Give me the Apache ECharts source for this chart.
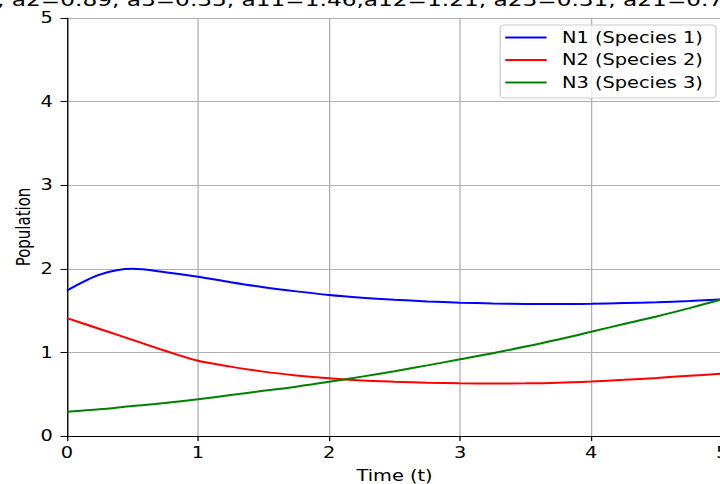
<!DOCTYPE html>
<html>
<head>
<meta charset="utf-8">
<script src="https://cdn.jsdelivr.net/npm/echarts@6/dist/echarts.min.js"></script>
<style>
html,body{margin:0;padding:0;background:#fff;overflow:hidden;}
#wrap{width:720px;height:484px;overflow:hidden;position:relative;}
#chart{width:558px;height:484px;transform:scaleX(1.2903);transform-origin:0 0;}
</style>
</head>
<body>
<div id="wrap"><div id="chart"></div></div>
<script>
var titleText = ", a2=0.89, a3=0.35, a11=1.46,a12=1.21, a23=0.31, a21=0.7";
var seriesNames = ["N1 (Species 1)", "N2 (Species 2)", "N3 (Species 3)"];
var timeValues = [0, 0.25, 0.5, 0.75, 1, 1.25, 1.5, 1.75, 2, 2.25, 2.5, 2.75, 3, 3.25, 3.5, 3.75, 4, 4.25, 4.5, 4.75, 5];
var n1Values = [1.74, 1.93, 2.00, 1.96, 1.906, 1.84, 1.78, 1.73, 1.687, 1.655, 1.63, 1.61, 1.595, 1.585, 1.579, 1.578, 1.582, 1.59, 1.60, 1.615, 1.635];
var n2Values = [1.41, 1.28, 1.15, 1.02, 0.90, 0.83, 0.77, 0.725, 0.69, 0.665, 0.65, 0.638, 0.63, 0.628, 0.63, 0.638, 0.653, 0.672, 0.695, 0.72, 0.745];
var n3Values = [0.29, 0.32, 0.36, 0.395, 0.44, 0.49, 0.54, 0.59, 0.65, 0.71, 0.775, 0.845, 0.917, 0.99, 1.07, 1.155, 1.247, 1.34, 1.43, 1.53, 1.635];
var xTicks = [0, 1, 2, 3, 4, 5];
var yTicks = [0, 1, 2, 3, 4, 5];

function pairs(vals) {
  return timeValues.map(function (t, i) { return [t, vals[i]]; });
}

var font = "'DejaVu Sans', sans-serif";
var chart = echarts.init(document.getElementById('chart'), null, { renderer: 'svg', width: 558, height: 484 });
var lineColors = ['#0000ff', '#ff0000', '#008000'];
var allVals = [n1Values, n2Values, n3Values];

chart.setOption({
  animation: false,
  backgroundColor: '#ffffff',
  graphic: [{
    type: 'text',
    x: -2.3,
    y: 0,
    style: {
      text: titleText,
      font: "18px 'DejaVu Sans', sans-serif",
      fill: '#000',
      verticalAlign: 'middle',
      align: 'left'
    }
  }],
  grid: { left: 51.9, top: 18, width: 507.8, height: 418, show: false, containLabel: false, outerBoundsMode: 'none' },
  legend: {
    orient: 'vertical',
    left: 387.6,
    top: 25,
    padding: [5, 10, 8, 4],
    itemWidth: 32,
    itemHeight: 2,
    itemGap: 7.5,
    icon: 'rect',
    backgroundColor: 'rgba(255,255,255,0.8)',
    borderColor: '#cccccc',
    borderWidth: 1,
    borderRadius: 3,
    textStyle: { fontFamily: font, fontSize: 15, lineHeight: 15, color: '#000', padding: [0, 0, 0, 7] },
    data: seriesNames
  },
  xAxis: {
    type: 'value',
    min: 0, max: 5, interval: 1,
    name: 'Time (t)',
    nameLocation: 'middle',
    nameGap: 32,
    nameMoveOverlap: false,
    nameTextStyle: { fontFamily: font, fontSize: 15, color: '#000' },
    axisLine: { show: true, onZero: false, lineStyle: { color: '#000', width: 1 } },
    axisTick: { show: true, length: 5, lineStyle: { color: '#000' } },
    axisLabel: { fontFamily: font, fontSize: 15, color: '#000', margin: 9, showMaxLabel: true, showMinLabel: true,
      formatter: function (v) { return xTicks.indexOf(v) >= 0 ? String(v) : ''; } },
    splitLine: { show: true, lineStyle: { color: '#b0b0b0', width: 1 } }
  },
  yAxis: {
    type: 'value',
    min: 0, max: 5, interval: 1,
    name: 'Population',
    nameLocation: 'middle',
    nameRotate: 90,
    nameGap: 26,
    nameMoveOverlap: false,
    nameTextStyle: { fontFamily: font, fontSize: 15, color: '#000' },
    axisLine: { show: true, onZero: false, lineStyle: { color: '#000', width: 1 } },
    axisTick: { show: true, length: 5, lineStyle: { color: '#000' } },
    axisLabel: { fontFamily: font, fontSize: 15, color: '#000', margin: 11,
      formatter: function (v) { return yTicks.indexOf(v) >= 0 ? String(v) : ''; } },
    splitLine: { show: true, lineStyle: { color: '#b0b0b0', width: 1 } }
  },
  series: seriesNames.map(function (name, i) {
    return {
      name: name,
      type: 'line',
      data: pairs(allVals[i]),
      showSymbol: false,
      symbol: 'none',
      smooth: 0.3,
      color: lineColors[i],
      lineStyle: { color: lineColors[i], width: 2 }
    };
  })
});
</script>
</body>
</html>
